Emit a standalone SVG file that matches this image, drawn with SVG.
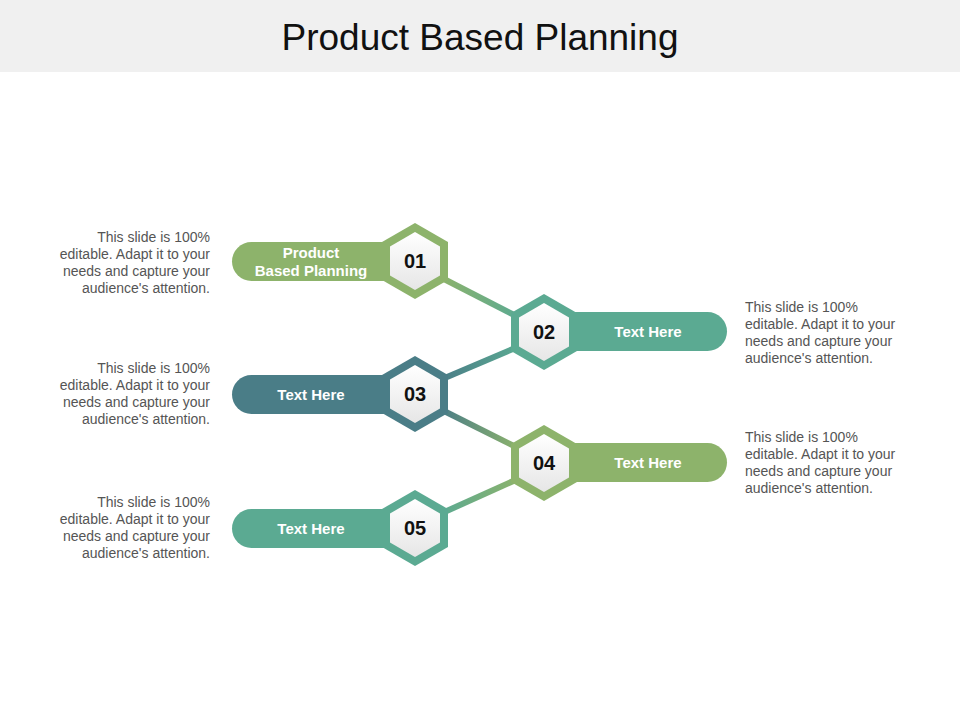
<svg xmlns="http://www.w3.org/2000/svg" width="960" height="720" viewBox="0 0 960 720">
<defs>
<style>
.t{font-family:"Liberation Sans",Arial,sans-serif}
.num{font-family:"Liberation Sans",Arial,sans-serif;font-weight:bold;font-size:20px;fill:#111;text-anchor:middle}
.pl{font-family:"Liberation Sans",Arial,sans-serif;font-weight:bold;font-size:15px;fill:#fff;text-anchor:middle}
.d{font-family:"Liberation Sans",Arial,sans-serif;font-size:14px;fill:#555}
.in{fill:url(#w)}
</style>
<linearGradient id="w" x1="0" y1="0" x2="0" y2="1"><stop offset="0" stop-color="#fff"/><stop offset="1" stop-color="#e6e6e6"/></linearGradient>
<linearGradient id="g1" x1="0" y1="0" x2="1" y2="0"><stop offset="0" stop-color="#8DB36B"/><stop offset="1" stop-color="#5BAA92"/></linearGradient>
<linearGradient id="g2" x1="0" y1="0" x2="1" y2="0"><stop offset="0" stop-color="#4A7D87"/><stop offset="1" stop-color="#5BAA92"/></linearGradient>
<linearGradient id="g3" x1="0" y1="0" x2="1" y2="0"><stop offset="0" stop-color="#4A7D87"/><stop offset="1" stop-color="#8DB36B"/></linearGradient>
<linearGradient id="g4" x1="0" y1="0" x2="1" y2="0"><stop offset="0" stop-color="#5BAA92"/><stop offset="1" stop-color="#8DB36B"/></linearGradient>
<polygon id="ho" points="0,-38 33,-19 33,19 0,38 -33,19 -33,-19"/>
<polygon id="hi" points="0,-29 25,-14.5 25,14.5 0,29 -25,14.5 -25,-14.5"/>
</defs>
<rect width="960" height="720" fill="#fff"/>
<rect width="960" height="72" fill="#F0F0F0"/>
<text x="480" y="50" class="t" font-size="37" text-anchor="middle" fill="#111">Product Based Planning</text>
<g id="connectors" stroke-width="6">
<line x1="440" y1="277" x2="520" y2="318" stroke="url(#g1)"/>
<line x1="440" y1="380" x2="520" y2="346" stroke="url(#g2)"/>
<line x1="440" y1="409" x2="520" y2="449" stroke="url(#g3)"/>
<line x1="440" y1="514" x2="520" y2="478" stroke="url(#g4)"/>
</g>
<g id="n1"><rect x="232" y="242" width="175" height="39" rx="19.5" fill="#8DB36B"/><use href="#ho" x="415" y="261" fill="#8DB36B"/><use href="#hi" x="415" y="261" class="in"/><text x="415" y="268" class="num">01</text><text x="311" y="258" class="pl">Product</text><text x="311" y="276" class="pl">Based Planning</text></g>
<g id="n2"><rect x="552" y="312" width="175" height="39" rx="19.5" fill="#5BAA92"/><use href="#ho" x="544" y="332" fill="#5BAA92"/><use href="#hi" x="544" y="332" class="in"/><text x="544" y="339" class="num">02</text><text x="648" y="337" class="pl">Text Here</text></g>
<g id="n3"><rect x="232" y="375" width="175" height="39" rx="19.5" fill="#4A7D87"/><use href="#ho" x="415" y="394" fill="#4A7D87"/><use href="#hi" x="415" y="394" class="in"/><text x="415" y="401" class="num">03</text><text x="311" y="400" class="pl">Text Here</text></g>
<g id="n4"><rect x="552" y="443" width="175" height="39" rx="19.5" fill="#8DB36B"/><use href="#ho" x="544" y="463" fill="#8DB36B"/><use href="#hi" x="544" y="463" class="in"/><text x="544" y="470" class="num">04</text><text x="648" y="468" class="pl">Text Here</text></g>
<g id="n5"><rect x="232" y="509" width="175" height="39" rx="19.5" fill="#5BAA92"/><use href="#ho" x="415" y="528" fill="#5BAA92"/><use href="#hi" x="415" y="528" class="in"/><text x="415" y="535" class="num">05</text><text x="311" y="534" class="pl">Text Here</text></g>
<g id="desc" class="d">
<text text-anchor="end"><tspan x="210" y="242">This slide is 100%</tspan><tspan x="210" y="259">editable. Adapt it to your</tspan><tspan x="210" y="276">needs and capture your</tspan><tspan x="210" y="293">audience's attention.</tspan></text>
<text text-anchor="end"><tspan x="210" y="373">This slide is 100%</tspan><tspan x="210" y="390">editable. Adapt it to your</tspan><tspan x="210" y="407">needs and capture your</tspan><tspan x="210" y="424">audience's attention.</tspan></text>
<text text-anchor="end"><tspan x="210" y="507">This slide is 100%</tspan><tspan x="210" y="524">editable. Adapt it to your</tspan><tspan x="210" y="541">needs and capture your</tspan><tspan x="210" y="558">audience's attention.</tspan></text>
<text><tspan x="745" y="312">This slide is 100%</tspan><tspan x="745" y="329">editable. Adapt it to your</tspan><tspan x="745" y="346">needs and capture your</tspan><tspan x="745" y="363">audience's attention.</tspan></text>
<text><tspan x="745" y="442">This slide is 100%</tspan><tspan x="745" y="459">editable. Adapt it to your</tspan><tspan x="745" y="476">needs and capture your</tspan><tspan x="745" y="493">audience's attention.</tspan></text>
</g>
</svg>
